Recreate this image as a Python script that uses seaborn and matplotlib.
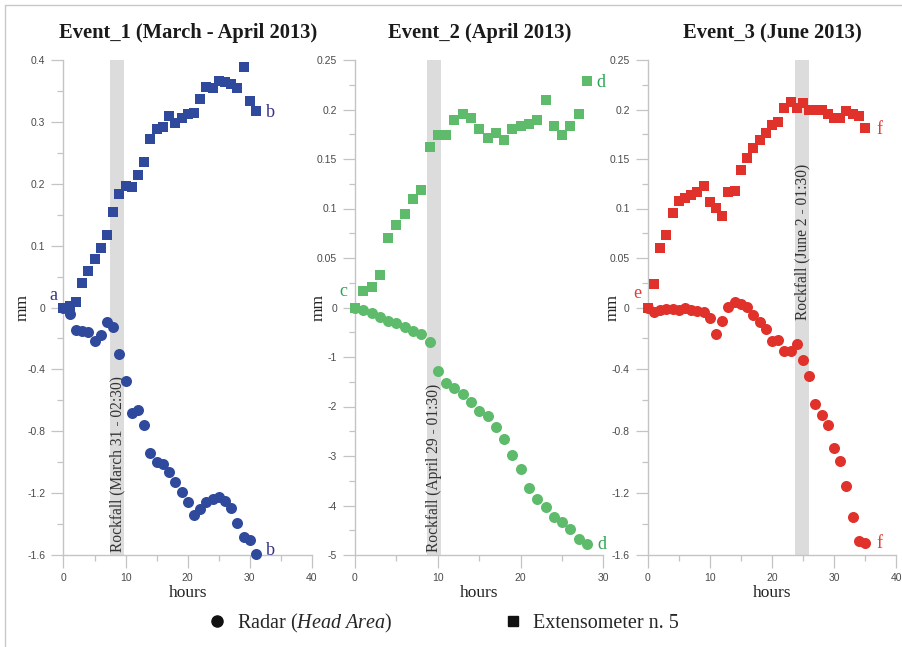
import numpy as np
import matplotlib
matplotlib.use('Agg')
import matplotlib.pyplot as plt
import seaborn as sns
from matplotlib.lines import Line2D
from matplotlib.ticker import FuncFormatter

# valè yo li sou grafik la (yon pwen chak èdtan)
ev1_ext = [0, 0.003, 0.009, 0.039, 0.059, 0.079, 0.096, 0.117, 0.155, 0.183, 0.196, 0.194,
           0.214, 0.235, 0.272, 0.288, 0.292, 0.309, 0.298, 0.306, 0.312, 0.315, 0.337, 0.357,
           0.355, 0.366, 0.365, 0.361, 0.355, 0.389, 0.334, 0.318]
ev1_radar = [0, -0.04, -0.144, -0.155, -0.159, -0.219, -0.178, -0.092, -0.125, -0.299, -0.475,
             -0.685, -0.661, -0.762, -0.943, -1.001, -1.009, -1.063, -1.128, -1.192, -1.259,
             -1.344, -1.302, -1.256, -1.235, -1.224, -1.252, -1.299, -1.396, -1.482, -1.504, -1.596]

ev2_ext = [0, 0.017, 0.021, 0.033, 0.070, 0.083, 0.094, 0.110, 0.119, 0.162, 0.174, 0.174,
           0.189, 0.195, 0.191, 0.180, 0.171, 0.176, 0.169, 0.180, 0.183, 0.185, 0.189, 0.210,
           0.183, 0.174, 0.183, 0.195, 0.229]
ev2_radar = [0, -0.054, -0.121, -0.188, -0.268, -0.315, -0.403, -0.477, -0.544, -0.691, -1.282,
             -1.530, -1.631, -1.745, -1.899, -2.081, -2.188, -2.416, -2.664, -2.980, -3.255,
             -3.644, -3.866, -4.027, -4.228, -4.336, -4.483, -4.678, -4.785]

ev3_ext = [0, 0.024, 0.060, 0.073, 0.095, 0.108, 0.111, 0.114, 0.117, 0.123, 0.107, 0.101,
           0.092, 0.117, 0.118, 0.139, 0.151, 0.161, 0.169, 0.176, 0.184, 0.187, 0.202, 0.208,
           0.202, 0.207, 0.199, 0.199, 0.199, 0.195, 0.191, 0.191, 0.198, 0.195, 0.193, 0.181]
ev3_radar = [0, -0.028, -0.017, -0.011, -0.009, -0.015, -0.004, -0.017, -0.021, -0.032, -0.069,
             -0.174, -0.090, 0.006, 0.037, 0.021, 0.004, -0.047, -0.092, -0.140, -0.215, -0.208,
             -0.284, -0.284, -0.236, -0.339, -0.442, -0.627, -0.698, -0.758, -0.908, -0.992,
             -1.153, -1.353, -1.508, -1.525]

titles = ['Event_1 (March - April 2013)', 'Event_2 (April 2013)', 'Event_3 (June 2013)']
rockfall_labels = ['Rockfall (March 31 - 02:30)', 'Rockfall (April 29 - 01:30)',
                   'Rockfall (June 2 - 01:30)']
rockfall_bands = [(7.56, 9.81), (8.75, 10.4), (23.7, 26.0)]
letters = [('a', 'b'), ('c', 'd'), ('e', 'f')]
colors = ['#2f4a9c', '#5dbb6b', '#e0312b']
letter_colors = ['#35318a', '#2ea552', '#e63a35']

# aranjman chak panèl
panels = [
    dict(ext=ev1_ext, radar=ev1_radar, xmax=40, ext_lim=0.4, ext_step=0.1, rad_lim=1.6, rad_step=0.4,
         left=63.5, band_y=0.006, mm_x=-0.163),
    dict(ext=ev2_ext, radar=ev2_radar, xmax=30, ext_lim=0.25, ext_step=0.05, rad_lim=5, rad_step=1,
         left=355, band_y=0.006, mm_x=-0.145),
    dict(ext=ev3_ext, radar=ev3_radar, xmax=40, ext_lim=0.25, ext_step=0.05, rad_lim=1.6, rad_step=0.4,
         left=647.7, band_y=0.475, mm_x=-0.14),
]

sns.set_style('white')
plt.rcParams['font.family'] = ['Liberation Serif', 'DejaVu Serif']
plt.rcParams['axes.unicode_minus'] = False
plt.rcParams['mathtext.fontset'] = 'custom'
plt.rcParams['mathtext.rm'] = 'Liberation Serif'
plt.rcParams['mathtext.it'] = 'Liberation Serif:italic'

W, H = 903, 647
fig = plt.figure(figsize=(W / 100, H / 100), dpi=100)
fig.patch.set_facecolor('white')

spine_col = '#c4c4c4'
fmt = FuncFormatter(lambda v, p: f'{v:g}')

for i, p in enumerate(panels):
    ax = fig.add_axes([p['left'] / W, (H - 555) / H, 248.5 / W, 495 / H])
    ext = ax.twinx()
    hours = np.arange(len(p['ext']))
    hours_r = np.arange(len(p['radar']))

    ax.set_xlim(0, p['xmax'])
    ax.set_ylim(-p['rad_lim'], p['rad_lim'])
    ext.set_ylim(-p['ext_lim'], p['ext_lim'])

    # bann gri rockfall la
    b0, b1 = rockfall_bands[i]
    ax.axvspan(b0, b1, color='#dcdcdc', lw=0, zorder=0)
    ax.text((b0 + b1) / 2, p['band_y'], rockfall_labels[i], rotation=90, ha='center', va='bottom',
            fontsize=11.2, color='#333333', transform=ax.get_xaxis_transform())

    sns.scatterplot(x=hours_r, y=p['radar'], ax=ax, marker='o', s=63, color=colors[i],
                    linewidth=0, legend=False, clip_on=False, zorder=3)
    sns.scatterplot(x=hours, y=p['ext'], ax=ext, marker='s', s=52, color=colors[i],
                    linewidth=0, legend=False, clip_on=False, zorder=3)

    # aks yo
    for s in ['top', 'right']:
        ax.spines[s].set_visible(False)
    for s in ext.spines.values():
        s.set_visible(False)
    ax.spines['left'].set_color(spine_col)
    ax.spines['bottom'].set_color(spine_col)
    ax.spines['left'].set_linewidth(1)
    ax.spines['bottom'].set_linewidth(1)

    ax.set_xticks(np.arange(0, p['xmax'] + 1, 10))
    ax.set_xticks(np.arange(5, p['xmax'], 10), minor=True)
    ax.set_yticks(-np.arange(p['rad_step'], p['rad_lim'] + 1e-9, p['rad_step']))
    ax.set_yticks(-np.arange(p['rad_step'] / 2, p['rad_lim'], p['rad_step']), minor=True)
    ext.yaxis.tick_left()
    ext.set_yticks(np.arange(0, p['ext_lim'] + 1e-9, p['ext_step']))
    ext.set_yticks(np.arange(p['ext_step'] / 2, p['ext_lim'], p['ext_step']), minor=True)
    ax.yaxis.set_major_formatter(fmt)
    ext.yaxis.set_major_formatter(fmt)

    for a in (ax, ext):
        a.tick_params(which='major', length=9, width=0.9, color=spine_col, labelsize=7.5,
                      labelcolor='#4a4a4a', labelfontfamily='Liberation Sans', pad=4,
                      left=True, bottom=(a is ax))
        a.tick_params(which='minor', length=4, width=0.9, color=spine_col,
                      left=True, bottom=(a is ax))
    ax.tick_params(axis='x', pad=4)
    ax.set_xlabel('')
    ax.set_ylabel('')
    ext.set_ylabel('')

    ax.text(0.5, 1 + 27 / 495, titles[i], transform=ax.transAxes, ha='center', va='center',
            fontsize=14.8, fontweight='bold', color='#1a1a1a')
    ax.text(0.5, -38 / 495, 'hours', transform=ax.transAxes, ha='center', va='center',
            fontsize=12.5, color='#222222')
    ax.text(p['mm_x'], 0.5, 'mm', transform=ax.transAxes, ha='center', va='center',
            rotation=90, fontsize=12.5, color='#222222')

    # lèt a-f yo
    first, last = letters[i]
    lc = letter_colors[i]
    start_off = [(-7, 8.6), (-8.6, 11.5), (-7.7, 10)][i]
    ext.annotate(first, xy=(hours[0], p['ext'][0]), xytext=start_off, textcoords='offset points',
                 ha='center', va='center', fontsize=13, color=lc)
    ext.annotate(last, xy=(hours[-1], p['ext'][-1]), xytext=(10, -1), textcoords='offset points',
                 ha='center', va='center', fontsize=13, color=lc)
    ax.annotate(last, xy=(hours_r[-1], p['radar'][-1]), xytext=(10.5, 3 if i == 0 else 0),
                textcoords='offset points', ha='center', va='center', fontsize=13, color=lc)

# bòdi figi a
fig.add_artist(Line2D([5 / W, 5 / W], [0, 1 - 5 / H], transform=fig.transFigure,
                      color='#c8c8c8', lw=1))
fig.add_artist(Line2D([5 / W, 1], [1 - 5 / H, 1 - 5 / H], transform=fig.transFigure,
                      color='#c8c8c8', lw=1))

handles = [Line2D([], [], marker='o', ls='', color='#111111', markersize=8),
           Line2D([], [], marker='s', ls='', color='#111111', markersize=7.5)]
fig.legend(handles, ['Radar ($\\it{Head\\ Area}$)', 'Extensometer n. 5'], ncol=2, loc='center',
           bbox_to_anchor=(0.49, 1 - 623 / H), frameon=False, fontsize=14.5, handlelength=1,
           handletextpad=0.5, columnspacing=5.5)

fig.savefig('out.png', dpi=100)
